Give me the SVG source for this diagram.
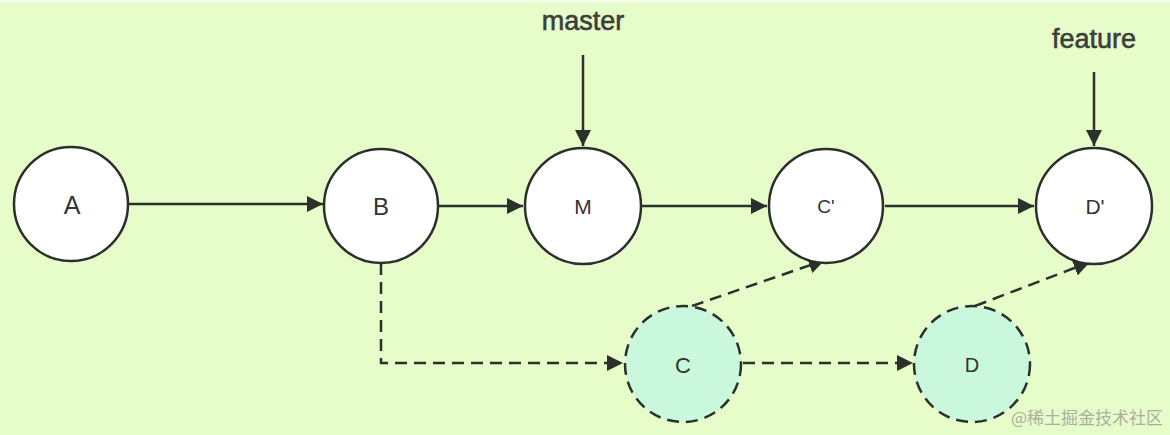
<svg xmlns="http://www.w3.org/2000/svg" width="1170" height="435" viewBox="0 0 1170 435">
<defs>
<marker id="ah" viewBox="0 0 10 10" refX="10" refY="5" markerWidth="6.5" markerHeight="6.5" markerUnits="strokeWidth" orient="auto">
<path d="M0,0 L10,5 L0,10 z" fill="#2b302b"/>
</marker>
<style>
.n{fill:#ffffff;stroke:#2b302b;stroke-width:2.5}
.d{fill:#c9f8dd;stroke:#2b302b;stroke-width:2.5;stroke-dasharray:12 7}
.t{font-family:"Liberation Sans",Arial,sans-serif;fill:#333;text-anchor:middle}
.l{font-family:"Liberation Sans",Arial,sans-serif;font-size:27px;fill:#3a3f3a;stroke:#3a3f3a;stroke-width:0.6;text-anchor:middle}
.c{fill:none;stroke:#2b302b;stroke-width:2.5;marker-end:url(#ah)}
.cd{fill:none;stroke:#2b302b;stroke-width:2.5;stroke-dasharray:12 7;marker-end:url(#ah)}
</style>
</defs>
<rect x="0" y="0" width="1170" height="435" fill="#e6fcc9"/>
<rect x="0" y="0" width="1170" height="3" fill="#f3fde8"/>
<g id="connectors">
<path class="c" d="M129,204 L323,204"/>
<path class="c" d="M439,206 L523,206"/>
<path class="c" d="M642,206 L767,206"/>
<path class="c" d="M885,206 L1034,206"/>
<path class="c" d="M583,55 L583,146"/>
<path class="c" d="M1094,72 L1094,146"/>
<path class="cd" d="M381,263 L381,363 L623,363"/>
<path class="cd" d="M743,363 L913,363"/>
<path class="cd" d="M692,306 L825,260"/>
<path class="cd" d="M975,306 L1090,262"/>
</g>
<g id="label-master"><text class="l" x="583" y="30">master</text></g>
<g id="label-feature"><text class="l" x="1094" y="48">feature</text></g>
<g id="node-A"><circle class="n" cx="71" cy="204" r="57"/><text class="t" x="72" y="214" style="font-size:25px">A</text></g>
<g id="node-B"><circle class="n" cx="381" cy="206" r="57"/><text class="t" x="381" y="215" style="font-size:24px">B</text></g>
<g id="node-M"><circle class="n" cx="583" cy="206" r="58"/><text class="t" x="583" y="214" style="font-size:21px">M</text></g>
<g id="node-C1"><circle class="n" cx="826" cy="206" r="57"/><text class="t" x="826" y="213" style="font-size:19px">C'</text></g>
<g id="node-D1"><circle class="n" cx="1094" cy="206" r="58"/><text class="t" x="1095" y="214" style="font-size:21px">D'</text></g>
<g id="node-C"><circle class="d" cx="683" cy="364" r="58"/><text class="t" x="683" y="373" style="font-size:22px">C</text></g>
<g id="node-D"><circle class="d" cx="972" cy="364" r="58"/><text class="t" x="972" y="372" style="font-size:20px">D</text></g>
<text x="1163" y="424" style="font-family:'Noto Sans CJK SC','Liberation Sans',sans-serif;font-size:17px;fill:#a8b0a0;text-anchor:end">@稀土掘金技术社区</text>
</svg>
